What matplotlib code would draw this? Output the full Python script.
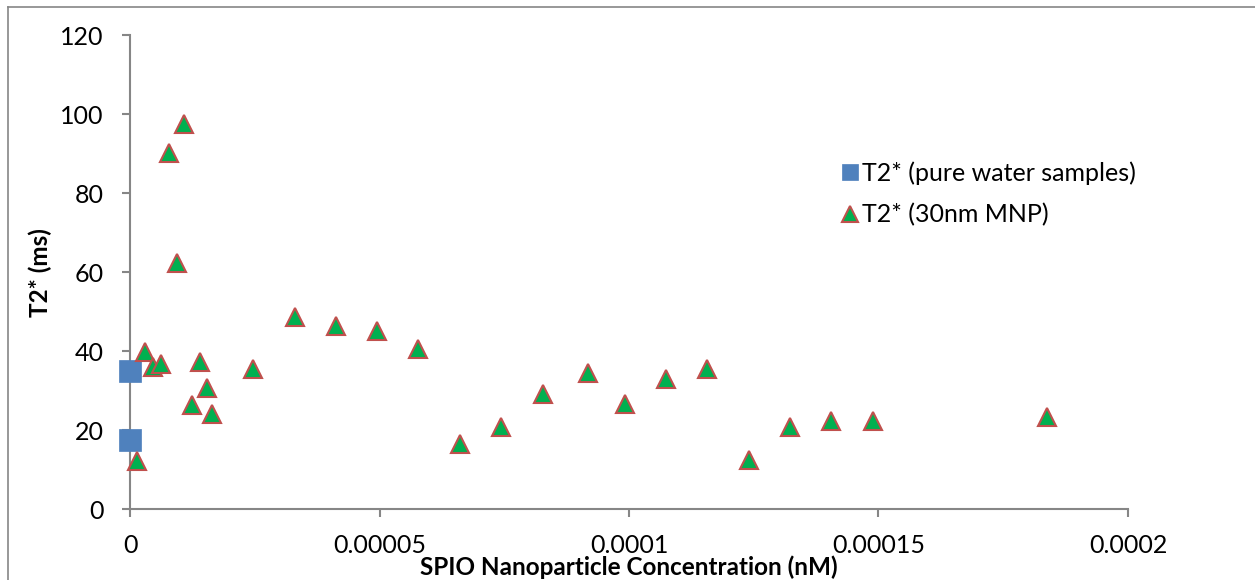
import matplotlib
matplotlib.use("Agg")
import matplotlib.pyplot as plt
from matplotlib.lines import Line2D

# Pure water reference samples (zero concentration)
water_conc = [0.0, 0.0]
water_t2 = [35.1, 17.5]

# 30 nm magnetic nanoparticle samples
mnp_conc = [1.5e-6, 3.1e-6, 4.7e-6, 6.2e-6, 7.8e-6, 9.4e-6, 10.9e-6, 12.4e-6,
            14.0e-6, 15.5e-6, 16.5e-6, 24.7e-6, 33.0e-6, 41.3e-6, 49.5e-6,
            57.8e-6, 66.1e-6, 74.3e-6, 82.7e-6, 91.7e-6, 99.2e-6, 107.4e-6,
            115.7e-6, 124.0e-6, 132.3e-6, 140.5e-6, 148.8e-6, 183.7e-6]
mnp_t2 = [12.2, 39.9, 36.1, 36.8, 90.3, 62.3, 97.5, 26.4,
          37.4, 30.6, 24.1, 35.5, 48.8, 46.5, 45.2,
          40.5, 16.5, 20.9, 29.1, 34.4, 26.7, 33.1,
          35.6, 12.5, 20.8, 22.4, 22.4, 23.3]

x_ticks = [0, 0.00005, 0.0001, 0.00015, 0.0002]
x_tick_labels = ["0", "0.00005", "0.0001", "0.00015", "0.0002"]
y_ticks = [0, 20, 40, 60, 80, 100, 120]

plt.rcParams['font.family'] = ['Lato', 'DejaVu Sans']

W, H = 1255, 580
fig = plt.figure(figsize=(W / 100, H / 100), dpi=100)
ax = fig.add_axes([130 / W, (H - 509.3) / H, (1128 - 130) / W, (509.3 - 35.3) / H])

axis_grey = '#868686'

ax.plot(water_conc, water_t2, linestyle='none', marker='s', markersize=16.5,
        markerfacecolor='#4F81BD', markeredgecolor='#4F81BD', markeredgewidth=0.5,
        clip_on=False, zorder=3, label='T2* (pure water samples)')
ax.plot(mnp_conc, mnp_t2, linestyle='none', marker='^', markersize=13.5,
        markerfacecolor='#00B050', markeredgecolor='#C0504D', markeredgewidth=1.5,
        clip_on=False, zorder=4, label='T2* (30nm MNP)')

ax.set_xlim(0, 0.0002)
ax.set_ylim(0, 120)
ax.set_xticks(x_ticks)
ax.set_xticklabels(x_tick_labels)
ax.set_yticks(y_ticks)

for side in ('top', 'right'):
    ax.spines[side].set_visible(False)
for side in ('left', 'bottom'):
    ax.spines[side].set_color(axis_grey)
    ax.spines[side].set_linewidth(1.5)

ax.tick_params(axis='both', direction='out', length=5.8, width=1.5, color=axis_grey,
               labelsize=18, labelcolor='black')
ax.tick_params(axis='x', pad=12)
ax.tick_params(axis='y', pad=13)

ax.set_xlabel('SPIO Nanoparticle Concentration (nM)', fontsize=17.5, fontweight='bold',
              labelpad=-1)
ax.set_ylabel('T2* (ms)', fontsize=17.5, fontweight='bold', labelpad=6)

leg = ax.legend(loc='upper left', bbox_to_anchor=(838.5 / W, 1 - 161 / H),
                bbox_transform=fig.transFigure, frameon=False, fontsize=18,
                handlelength=0.9, handletextpad=0.05, labelspacing=0.75,
                borderpad=0, borderaxespad=0)
for h in leg.legend_handles:
    h.set_markersize(12)

# Outer chart frame
fig.add_artist(Line2D([7.5 / W, 1.0], [1 - 6.5 / H, 1 - 6.5 / H], color=axis_grey,
                      linewidth=1.2, transform=fig.transFigure))
fig.add_artist(Line2D([7.5 / W, 7.5 / W], [0.0, 1 - 6.5 / H], color=axis_grey,
                      linewidth=1.2, transform=fig.transFigure))

fig.savefig('out.png', dpi=100)
